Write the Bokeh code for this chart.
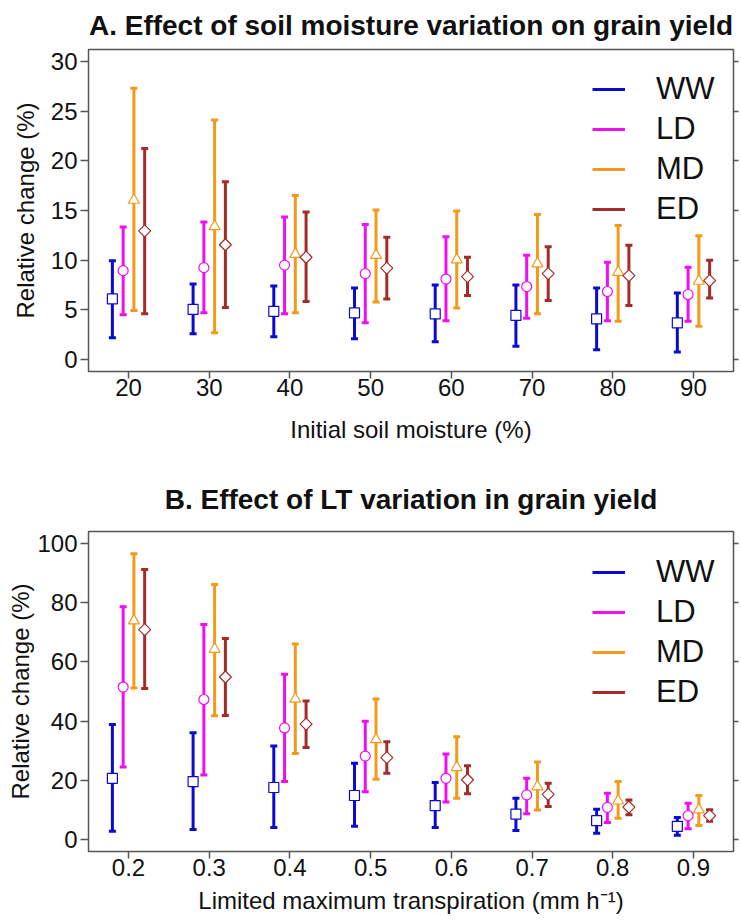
import math
from bokeh.plotting import figure
from bokeh.models import FixedTicker, LinearAxis, Legend, LegendItem, ColumnDataSource
from bokeh.transform import dodge
from bokeh.layouts import column
from bokeh.embed import file_html
from bokeh.resources import INLINE

# ---------------- data ----------------
series_names = ["WW", "LD", "MD", "ED"]

soil_moisture = [20, 30, 40, 50, 60, 70, 80, 90]
a_ww_mean = [6.1, 5.05, 4.85, 4.7, 4.6, 4.45, 4.1, 3.7]
a_ww_lo = [2.2, 2.6, 2.3, 2.1, 1.8, 1.35, 1.0, 0.75]
a_ww_hi = [9.95, 7.6, 7.4, 7.2, 7.5, 7.5, 7.2, 6.7]
a_ld_mean = [8.95, 9.25, 9.5, 8.65, 8.1, 7.35, 6.85, 6.55]
a_ld_lo = [4.5, 4.7, 4.6, 3.7, 3.9, 4.15, 3.9, 3.85]
a_ld_hi = [13.35, 13.85, 14.35, 13.6, 12.35, 10.5, 9.8, 9.3]
a_md_mean = [16.05, 13.4, 10.6, 10.5, 10.05, 9.65, 8.8, 7.9]
a_md_lo = [4.95, 2.7, 4.7, 5.8, 5.2, 4.6, 3.85, 3.35]
a_md_hi = [27.3, 24.1, 16.5, 15.05, 14.95, 14.6, 13.5, 12.45]
a_ed_mean = [12.95, 11.55, 10.3, 9.2, 8.35, 8.65, 8.45, 7.95]
a_ed_lo = [4.6, 5.25, 5.85, 6.1, 6.45, 5.95, 5.45, 6.2]
a_ed_hi = [21.25, 17.9, 14.85, 12.3, 10.3, 11.35, 11.5, 10.0]

lt_values = [0.2, 0.3, 0.4, 0.5, 0.6, 0.7, 0.8, 0.9]
b_ww_mean = [20.7, 19.6, 17.6, 14.9, 11.5, 8.6, 6.4, 4.5]
b_ww_lo = [2.8, 3.4, 4.1, 4.5, 4.1, 3.1, 2.2, 1.5]
b_ww_hi = [38.9, 36.1, 31.6, 25.8, 19.3, 14.0, 10.3, 7.5]
b_ld_mean = [51.5, 47.3, 37.7, 28.2, 20.7, 15.1, 10.9, 8.1]
b_ld_lo = [24.5, 21.8, 19.6, 16.2, 12.7, 8.7, 5.8, 3.7]
b_ld_hi = [78.6, 72.6, 55.8, 40.0, 28.9, 20.7, 15.7, 12.3]
b_md_mean = [73.9, 64.3, 47.5, 33.8, 24.4, 17.9, 13.1, 10.1]
b_md_lo = [51.2, 41.8, 29.1, 20.4, 14.0, 10.0, 7.2, 4.8]
b_md_hi = [96.5, 86.1, 66.0, 47.5, 34.7, 26.2, 19.6, 14.9]
b_ed_mean = [70.9, 54.9, 39.0, 27.7, 20.2, 15.3, 11.0, 8.1]
b_ed_lo = [51.0, 41.9, 31.1, 22.4, 15.5, 11.2, 8.4, 6.2]
b_ed_hi = [91.2, 67.9, 46.8, 33.0, 24.9, 19.0, 13.4, 10.1]

a_yticks = [0, 5, 10, 15, 20, 25, 30]
b_yticks = [0, 20, 40, 60, 80, 100]

# ---------------- style ----------------
FONT = "Liberation Sans"
colors = ["#0a0ad2", "#f00ff0", "#f39a1a", "#a52a2a"]
markers = ["square", "circle", "triangle", "square"]
mangles = [0, 0, 0, math.pi / 4]
msizes = [10, 10, 11, 8.5]
dodge_frac = [-1.0, -1.0 / 3, 1.0 / 3, 1.0]
FRAME_W = 645


def make_panel(title, xs, means, los, his, xlabel, yticks, step, x_range, y_range,
               frame_h, border_top, border_bottom, legend_y, title_valign,
               title_standoff, xlabel_standoff, ylabel_standoff):
    p = figure(frame_width=FRAME_W, frame_height=frame_h, x_range=x_range, y_range=y_range,
               min_border_left=88, min_border_right=8, min_border_top=border_top,
               min_border_bottom=border_bottom,
               toolbar_location=None, output_backend="svg")
    p.title.text = title
    p.title.align = "center"
    p.title.vertical_align = title_valign
    p.title.standoff = title_standoff
    p.title.text_font = FONT
    p.title.text_font_size = "28px"
    p.title.text_font_style = "bold"
    p.title.text_color = "#111111"
    p.xgrid.visible = False
    p.ygrid.visible = False
    p.outline_line_color = "#555555"
    p.outline_line_width = 1.5
    p.background_fill_color = "white"
    p.border_fill_color = "white"

    items = []
    for i, name in enumerate(series_names):
        src = ColumnDataSource(dict(x=xs, mean=means[i], lo=los[i], hi=his[i]))
        off = dodge_frac[i] * step
        xd = dodge("x", off)
        seg = p.segment(x0=xd, y0="lo", x1=xd, y1="hi", source=src,
                        line_color=colors[i], line_width=3)
        p.scatter(x=xd, y="lo", source=src, marker="dash", size=7,
                  line_color=colors[i], line_width=3)
        p.scatter(x=xd, y="hi", source=src, marker="dash", size=7,
                  line_color=colors[i], line_width=3)
        p.scatter(x=xd, y="mean", source=src, marker=markers[i], size=msizes[i],
                  angle=mangles[i], line_color=colors[i], fill_color="white",
                  line_width=1.2)
        items.append(LegendItem(label=name, renderers=[seg]))

    legend = Legend(items=items, location=(504, legend_y), orientation="vertical",
                    border_line_color=None, background_fill_alpha=0,
                    label_text_font=FONT, label_text_font_size="31px",
                    label_text_color="#111111",
                    glyph_width=33, glyph_height=36, label_height=36,
                    label_standoff=31, spacing=4, padding=0, margin=0)
    p.add_layout(legend, "center")

    for ax in (p.xaxis[0], p.yaxis[0]):
        ax.axis_line_color = None
        ax.major_tick_line_color = "#555555"
        ax.major_tick_line_width = 1.5
        ax.major_tick_in = 0
        ax.minor_tick_line_color = None
        ax.major_label_text_font = FONT
        ax.major_label_text_font_size = "24px"
        ax.major_label_text_color = "#111111"
        ax.axis_label_text_font = FONT
        ax.axis_label_text_font_size = "24px"
        ax.axis_label_text_font_style = "normal"
        ax.axis_label_text_color = "#111111"
    p.xaxis[0].major_tick_out = 7
    p.xaxis[0].major_label_standoff = 0
    p.yaxis[0].major_tick_out = 8
    p.yaxis[0].major_label_standoff = 3
    p.xaxis[0].ticker = FixedTicker(ticks=xs)
    p.yaxis[0].ticker = FixedTicker(ticks=yticks)
    p.xaxis[0].axis_label = xlabel
    p.yaxis[0].axis_label = "Relative change (%)"
    p.xaxis[0].axis_label_standoff = xlabel_standoff
    p.yaxis[0].axis_label_standoff = ylabel_standoff

    # right-hand tick marks only (no labels)
    rax = LinearAxis(ticker=FixedTicker(ticks=yticks))
    rax.axis_line_color = None
    rax.major_tick_line_color = "#555555"
    rax.major_tick_line_width = 1.5
    rax.major_tick_in = 0
    rax.major_tick_out = 5
    rax.minor_tick_line_color = None
    rax.major_label_text_font_size = "1px"
    rax.major_label_text_color = None
    rax.major_label_standoff = 0
    p.add_layout(rax, "right")
    return p


pa = make_panel("A. Effect of soil moisture variation on grain yield", soil_moisture,
                [a_ww_mean, a_ld_mean, a_md_mean, a_ed_mean],
                [a_ww_lo, a_ld_lo, a_md_lo, a_ed_lo],
                [a_ww_hi, a_ld_hi, a_md_hi, a_ed_hi],
                "Initial soil moisture (%)", a_yticks, 2.0,
                (15.04, 94.96), (-1.2, 31.2), 322, 49, 83, 144, "top", 13, 17, 9)

pb = make_panel("B. Effect of LT variation in grain yield", lt_values,
                [b_ww_mean, b_ld_mean, b_md_mean, b_ed_mean],
                [b_ww_lo, b_ld_lo, b_md_lo, b_ed_lo],
                [b_ww_hi, b_ld_hi, b_md_hi, b_ed_hi],
                "Limited maximum transpiration (mm h\u207b\u00b9)", b_yticks, 0.02,
                (0.1504, 0.9496), (-4, 104), 320, 77, 40, 141, "bottom", 34, 8, 0)

layout = column(pa, pb, spacing=0)
open("out.html", "w").write(file_html(layout, INLINE))
